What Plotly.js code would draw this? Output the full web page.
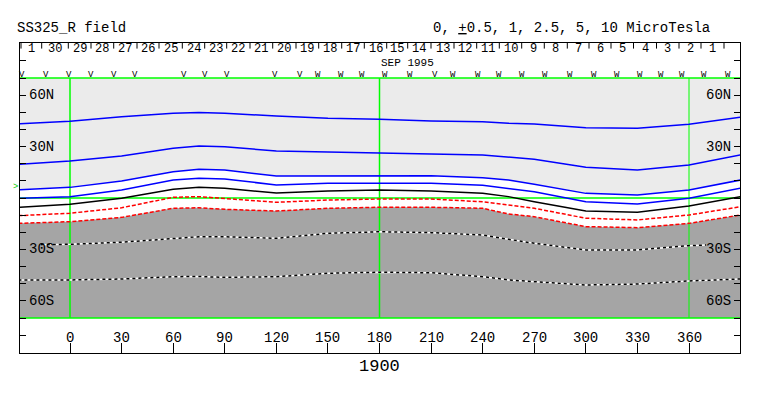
<!DOCTYPE html>
<html><head><meta charset="utf-8">
<script src="https://cdn.plot.ly/plotly-3.0.1.min.js"></script>
<style>html,body{margin:0;padding:0;background:#fff}#chart{width:763px;height:396px}</style>
</head><body><div id="chart"></div>
<script>
// ---- data (longitude in degrees, latitude of each contour in degrees) ----
const lon = [-30,0,30,60,75,90,120,150,180,210,240,255,270,300,330,360,390];
const blue1 = [43.2,44.7,47.4,49.4,49.9,49.4,47.8,46.5,45.9,44.9,44.5,43.6,43.2,41.0,40.7,43.0,47.1];
const blue2 = [19.7,21.6,24.5,29.0,30.3,29.9,27.4,26.7,26.3,25.7,25.1,23.7,22.6,17.9,16.3,19.3,25.1];
const blue3 = [4.7,6.2,9.9,15.3,16.7,16.3,12.8,13.0,13.0,13.0,11.8,10.5,8.0,2.7,1.75,4.7,10.5];
const blue4 = [-0.2,0.8,4.7,10.5,11.5,11.1,7.6,8.6,8.6,8.6,7.4,5.7,3.7,-2.2,-3.5,-0.2,5.7];
const black1 = [-5.4,-3.7,-0.2,5.1,6.2,5.7,2.9,4.1,4.7,4.1,2.7,0.8,-2.2,-7.6,-8.3,-4.7,0.8];
const red1 = [-10.3,-8.9,-5.7,0.4,0.8,-0.2,-2.5,-1.2,-0.6,-0.6,-2.2,-4.1,-6.0,-11.8,-12.8,-9.9,-5.1];
const red2 = [-14.8,-13.8,-11.3,-6.0,-5.7,-6.6,-7.6,-6.0,-5.4,-5.4,-6.0,-9.3,-10.9,-16.7,-17.3,-14.8,-9.9];
const lonDash1 = [-17,0,30,60,75,90,120,150,180,210,240,255,270,300,330,360,370];
const dash1 = [-27.2,-27.0,-25.8,-23.5,-22.6,-22.6,-23.5,-20.6,-19.7,-20.2,-21.6,-24.1,-26.4,-30.3,-30.3,-27.8,-27.4];
const dash2 = [-47.8,-47.8,-47.25,-45.9,-45.8,-46.3,-45.9,-43.9,-43.3,-43.6,-45.9,-47.8,-48.8,-50.75,-50.2,-48.4,-47.25];

const xTicks = [0,30,60,90,120,150,180,210,240,270,300,330,360];
const latLabelVals = [60,30,-30,-60];
const latLabelText = ['60N','30N','30S','60S'];
const refLons = [0,180,360];

// time band along the top: days (Oct 1, then Sep 30 ... Sep 1), boundaries in longitude units
const days = ['1','30','29','28','27','26','25','24','23','22','21','20','19','18','17','16','15','14','13','12','11','10','9','8','7','6','5','4','3','2','1'];
const dayBounds = [-28.5,-16.46,-0.99,12.21,25.42,38.97,51.76,65.31,78.34,91.13,104.69,117.89,131.44,144.64,158.02,171.16,184.19,196.40,209.95,223.33,236.53,249.67,262.70,275.84,289.22,301.84,314.64,327.72,341.10,354.19,366.98,380.36];
const flagLon = [-27.9,-13.96,-0.87,12.5,25.3,37.51,66.3,78.22,91.31,119.23,133.76,144.23,157.32,169.82,183.2,197.74,211.99,222.75,237.29,249.5,262.88,276.25,290.5,304.46,317.95,331.5,343.72,355.76,368.73,382.68];
const flagText = ['V','V','V','V','V','V','V','V','V','V','V','W','W','W','W','W','V','W','W','W','W','W','W','W','W','W','W','W','W','W'];

const FONT = 'Liberation Mono, DejaVu Sans Mono, monospace';
const LAT_MIN = -70, LAT_MAX = 70;

const traces = [];
// white band between blue3 and red2
traces.push({x: lon, y: blue3, mode:'lines', line:{width:0}, hoverinfo:'skip', showlegend:false});
traces.push({x: lon, y: red2, mode:'lines', line:{width:0}, fill:'tonexty', fillcolor:'#ffffff', hoverinfo:'skip', showlegend:false});
// dark gray below red2
traces.push({x: lon.concat([lon[lon.length-1], lon[0]]), y: red2.concat([LAT_MIN, LAT_MIN]), mode:'lines', line:{width:0}, fill:'toself', fillcolor:'#a5a5a5', hoverinfo:'skip', showlegend:false});
// green reference lines
const xr = [-29.08, 389.66];
[LAT_MIN, 0, LAT_MAX].forEach(v => traces.push({x: xr, y:[v,v], mode:'lines', line:{color:'#00ff00', width:1.5}, hoverinfo:'skip', showlegend:false}));
refLons.forEach(v => traces.push({x:[v,v], y:[LAT_MIN, LAT_MAX], mode:'lines', line:{color:'#00ff00', width: v===360?1:1.5}, hoverinfo:'skip', showlegend:false}));
// contour lines
[blue1, blue2, blue3, blue4].forEach(s => traces.push({x: lon, y: s, mode:'lines', line:{color:'#0000ff', width:1.5}, showlegend:false}));
traces.push({x: lon, y: black1, mode:'lines', line:{color:'#000000', width:1.5}, showlegend:false});
[red1, red2].forEach(s => traces.push({x: lon, y: s, mode:'lines', line:{color:'#ff0000', width:1.5, dash:'4px,2px'}, showlegend:false}));
[[lonDash1, dash1],[lon, dash2]].forEach(([xx,s]) => {
  traces.push({x: xx, y: s, mode:'lines', line:{color:'#ffffff', width:1.5}, showlegend:false});
  traces.push({x: xx, y: s, mode:'lines', line:{color:'#000000', width:1.5, dash:'3px,3px'}, showlegend:false});
});

const ann = [];
const txt = (o) => Object.assign({showarrow:false, font:{family:FONT, size:14, color:'#000'}}, o);
ann.push(txt({text:'SS325_R field', xref:'paper', yref:'paper', x:-0.0069, y:1.048, xanchor:'left', yanchor:'middle'}));
ann.push(txt({text:'0, <u>+</u>0.5, 1, 2.5, 5, 10 MicroTesla', xref:'paper', yref:'paper', x:0.7653, y:1.048, xanchor:'center', yanchor:'middle'}));
ann.push(txt({text:'1900', xref:'x', yref:'paper', x:180, y:-0.042, xanchor:'center', yanchor:'middle', font:{family:FONT, size:17, color:'#000'}}));
xTicks.forEach(v => ann.push(txt({text:String(v), xref:'x', yref:'paper', x:v, y:0.05, xanchor:'center', yanchor:'middle'})));
latLabelVals.forEach((v,i) => {
  ann.push(txt({text:latLabelText[i], xref:'paper', yref:'y', x:0.0097, y:v, xanchor:'left', yanchor:'middle'}));
  ann.push(txt({text:latLabelText[i], xref:'paper', yref:'y', x:0.9903, y:v, xanchor:'right', yanchor:'middle'}));
});
days.forEach((d,i) => ann.push(txt({text:d, xref:'x', yref:'paper', x:(dayBounds[i]+dayBounds[i+1])/2, y:0.981, xanchor:'center', yanchor:'middle', font:{family:FONT, size:12, color:'#000'}})));
ann.push(txt({text:'SEP 1995', xref:'x', yref:'paper', x:196, y:0.9345, xanchor:'center', yanchor:'middle', font:{family:FONT, size:11, color:'#000'}}));
flagLon.forEach((v,i) => ann.push(txt({text:flagText[i], xref:'x', yref:'paper', x:v, y:0.8975, xanchor:'center', yanchor:'middle', font:{family:FONT, size:9, color:'#000'}})));
ann.push(txt({text:'>', xref:'paper', yref:'y', x:-0.0056, y:6.6, xanchor:'center', yanchor:'middle', font:{family:FONT, size:9, color:'#00cc00'}}));

const shapes = [];
shapes.push({type:'rect', xref:'paper', yref:'y', x0:0, x1:1, y0:LAT_MIN, y1:LAT_MAX, fillcolor:'#ebebeb', line:{width:0}, layer:'below'});
dayBounds.forEach(b => shapes.push({type:'line', xref:'x', yref:'paper', x0:b, x1:b, y0:1, y1:0.982, line:{color:'#000', width:1}}));

const layout = {
  width:763, height:396,
  margin:{l:20, r:23, t:43, b:43, pad:0},
  paper_bgcolor:'#ffffff', plot_bgcolor:'#ffffff',
  showlegend:false,
  xaxis:{range:xr, showgrid:false, zeroline:false, showline:true, linecolor:'#000', linewidth:1, mirror:true,
         ticks:'inside', ticklen:10, tickcolor:'#000', tickwidth:1, tickvals:xTicks, showticklabels:false, fixedrange:true},
  yaxis:{range:[-90.4167, 90.4167], showgrid:false, zeroline:false, showline:true, linecolor:'#000', linewidth:1, mirror:'ticks',
         ticks:'inside', ticklen:6, tickcolor:'#000', tickwidth:1, tickvals:[-80,-70,-60,-50,-40,-30,-20,-10,0,10,20,30,40,50,60,70,80], showticklabels:false, fixedrange:true},
  annotations: ann,
  shapes: shapes
};
Plotly.newPlot('chart', traces, layout, {staticPlot:true, displayModeBar:false});
</script></body></html>
